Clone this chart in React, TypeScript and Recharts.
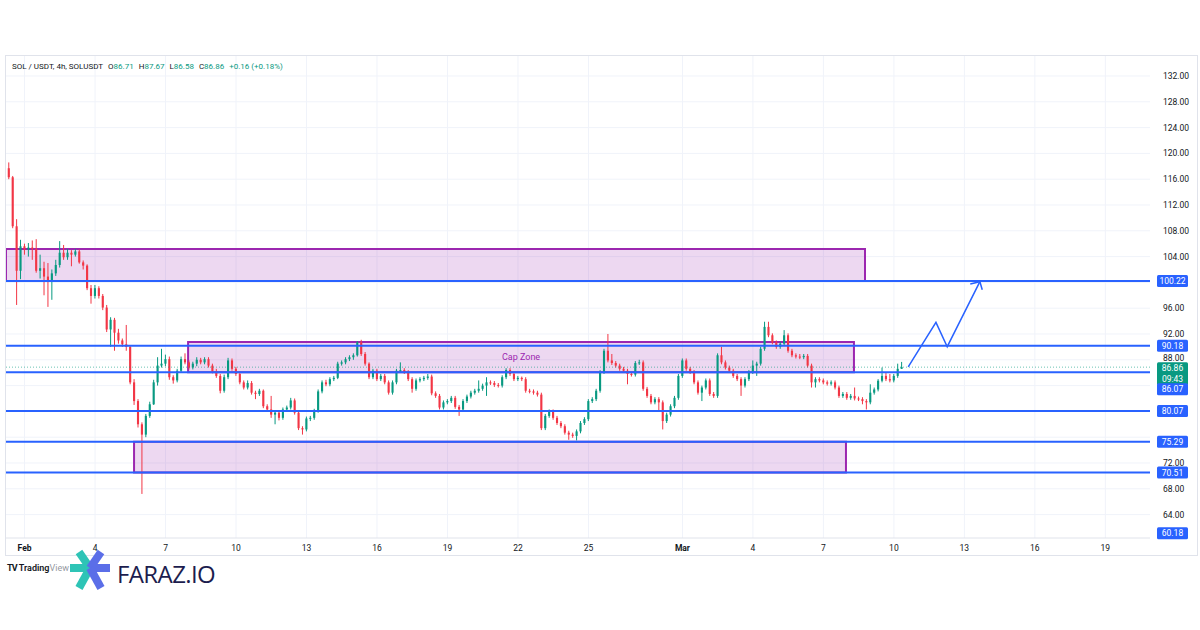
import React from 'react';
import { ComposedChart, Bar, Line, XAxis, YAxis, CartesianGrid, ReferenceLine, ReferenceArea } from 'recharts';

const GREEN = '#089981';
const RED = '#f23645';
const BLUE = '#2962ff';
const PURPLE = '#9c27b0';
const INK = '#131722';
const FONT = 'Roboto, "Liberation Sans", sans-serif';

// 4h candles; day 0 = Feb 1 00:00, first candle opens Jan 31 08:00
const START_DAY = -4 / 6;
const STEP_DAYS = 4 / 24;
const FIRST_OPEN = 117.7;

const closes = [
  116.3, 108.7, 101.8, 105.6, 105.1, 105.4, 105.2, 101.8, 102.2, 100.9,
  100.1, 101.4, 102.7, 104.6, 103.9, 104.6, 104.3, 104.8, 103.1, 102.6,
  99.1, 97.9, 99.1, 97.9, 96.1, 92.7, 94.2, 92.2, 91.0, 90.4,
  90.0, 84.5, 81.6, 78.0, 76.4, 79.3, 81.1, 84.5, 87.1, 87.4,
  88.1, 85.3, 84.8, 86.3, 88.1, 87.6, 86.8, 87.4, 88.0, 87.6,
  88.1, 87.1, 86.2, 85.5, 83.2, 85.3, 87.9, 86.6, 85.8, 84.5,
  83.7, 84.4, 82.9, 82.7, 83.2, 80.8, 80.3, 79.5, 79.8, 79.0,
  80.3, 80.6, 81.7, 79.8, 77.4, 77.2, 78.9, 79.0, 80.1, 83.1,
  84.5, 84.2, 85.0, 85.2, 87.4, 87.6, 88.1, 88.4, 88.7, 90.7,
  88.9, 87.4, 85.3, 86.3, 85.0, 85.5, 84.5, 82.9, 84.5, 86.3,
  86.4, 86.1, 85.0, 83.5, 84.8, 85.0, 85.2, 85.4, 82.8, 82.4,
  80.6, 81.4, 81.6, 82.1, 80.7, 80.3, 81.6, 82.3, 82.9, 83.2,
  83.5, 84.0, 84.5, 84.4, 84.1, 84.0, 85.3, 86.4, 85.8, 85.0,
  85.2, 85.0, 83.2, 83.1, 82.9, 82.6, 77.4, 79.3, 80.0, 79.0,
  78.2, 77.7, 76.7, 76.4, 76.2, 76.9, 78.2, 78.8, 81.6, 81.9,
  83.2, 86.1, 89.4, 87.9, 87.5, 87.1, 86.6, 86.3, 85.8, 85.7,
  87.5, 87.6, 83.5, 82.4, 81.4, 81.9, 81.4, 78.5, 79.5, 80.8,
  82.1, 85.5, 87.9, 86.6, 86.1, 84.5, 82.9, 83.7, 84.8, 82.7,
  82.4, 88.7, 87.6, 86.8, 86.3, 85.5, 85.0, 84.0, 85.0, 86.1,
  87.1, 87.4, 89.7, 93.1, 91.8, 90.7, 90.0, 90.5, 91.8, 89.4,
  88.7, 88.5, 88.4, 88.6, 87.1, 84.5, 85.0, 84.8, 84.5, 84.3,
  84.5, 83.7, 82.4, 82.7, 82.1, 82.4, 82.0, 81.9, 81.6, 81.4,
  82.9, 83.4, 84.75, 85.5, 85.0, 84.8, 85.5, 86.6, 86.86,
];

const highs = [
  118.6, 116.5, 109.8, 106.6, 106.0, 106.1, 106.5, 106.7, 104.3, 103.2,
  103.0, 102.0, 103.5, 106.4, 105.8, 105.2, 105.0, 105.2, 105.1, 103.4,
  102.8, 99.6, 99.6, 99.4, 98.2, 96.5, 94.6, 94.5, 92.8, 91.3,
  93.4, 90.2, 85.0, 81.9, 78.3, 79.6, 81.5, 84.9, 88.4, 89.7,
  88.8, 88.5, 85.6, 86.6, 88.5, 89.0, 87.9, 87.7, 88.4, 88.3,
  88.4, 88.4, 87.4, 86.6, 85.8, 85.7, 88.3, 88.2, 86.9, 86.1,
  84.8, 84.8, 84.7, 83.2, 83.5, 83.4, 81.1, 82.4, 80.2, 80.1,
  80.6, 80.9, 82.1, 82.0, 80.1, 77.7, 79.2, 79.3, 80.4, 83.4,
  84.8, 84.9, 85.3, 85.5, 87.7, 87.9, 88.4, 88.7, 89.0, 90.9,
  91.1, 89.2, 87.6, 86.6, 86.6, 85.8, 85.8, 84.8, 84.8, 86.6,
  87.6, 86.7, 86.4, 85.3, 85.1, 85.3, 85.5, 85.8, 85.7, 83.1,
  82.7, 81.7, 81.9, 82.4, 82.4, 81.0, 81.9, 82.6, 83.2, 83.5,
  84.8, 84.3, 85.3, 84.8, 84.7, 84.4, 85.6, 86.7, 86.7, 86.1,
  85.5, 85.4, 85.3, 83.5, 83.4, 83.2, 82.9, 79.6, 80.3, 80.3,
  79.3, 78.5, 78.0, 77.0, 76.7, 77.2, 78.5, 79.1, 81.9, 82.2,
  83.5, 86.4, 89.7, 92.0, 88.9, 87.8, 87.4, 86.9, 86.6, 86.1,
  87.8, 88.0, 87.9, 83.8, 82.7, 82.2, 82.2, 81.7, 79.8, 81.1,
  82.4, 85.8, 88.2, 88.2, 86.9, 86.4, 84.8, 84.0, 85.1, 85.1,
  83.0, 89.0, 90.0, 87.9, 87.1, 86.6, 85.8, 85.3, 85.3, 86.4,
  87.9, 87.7, 90.0, 93.9, 93.9, 92.1, 91.0, 90.8, 92.6, 92.1,
  89.7, 89.0, 88.9, 88.9, 88.9, 87.4, 85.3, 85.3, 85.1, 84.8,
  84.8, 84.8, 84.0, 83.0, 83.0, 82.7, 83.7, 82.3, 82.2, 81.9,
  84.2, 83.7, 85.0, 86.8, 86.0, 85.8, 85.8, 87.4, 87.67,
];

const lows = [
  116.0, 108.4, 96.5, 100.5, 104.3, 104.0, 103.5, 101.5, 100.6, 98.0,
  96.2, 97.3, 101.0, 102.3, 103.5, 103.5, 102.5, 104.0, 102.9, 102.0,
  98.8, 96.7, 97.5, 97.5, 95.7, 92.3, 90.0, 89.4, 90.5, 90.0,
  89.4, 84.2, 81.0, 77.5, 67.2, 76.0, 79.0, 81.0, 84.0, 86.8,
  87.0, 84.9, 84.3, 84.5, 86.0, 87.3, 86.5, 86.5, 87.0, 87.3,
  87.3, 86.8, 85.9, 85.2, 82.8, 82.9, 85.0, 86.3, 85.5, 84.2,
  83.4, 83.4, 82.6, 81.9, 82.4, 80.5, 80.0, 79.0, 78.0, 78.6,
  78.7, 80.0, 80.3, 79.5, 77.1, 76.4, 76.9, 78.5, 78.7, 79.8,
  82.8, 83.9, 83.9, 84.7, 85.0, 87.1, 87.3, 87.8, 88.0, 88.5,
  88.6, 87.1, 85.0, 85.0, 84.7, 84.7, 84.2, 82.6, 82.6, 84.2,
  86.0, 85.8, 84.7, 82.9, 83.2, 84.5, 84.7, 84.9, 82.5, 82.1,
  80.3, 80.3, 81.1, 81.3, 80.4, 79.3, 80.0, 81.3, 82.0, 82.6,
  82.9, 83.2, 82.4, 84.1, 83.8, 83.7, 83.7, 85.0, 85.5, 84.7,
  84.7, 84.7, 82.9, 82.8, 82.6, 82.3, 77.1, 77.1, 79.0, 78.7,
  77.9, 77.4, 76.4, 75.6, 75.9, 75.5, 76.6, 77.9, 78.5, 81.3,
  81.6, 82.9, 85.8, 87.6, 87.2, 86.8, 86.3, 86.0, 84.2, 85.4,
  85.4, 87.2, 83.2, 82.1, 81.1, 81.1, 80.1, 77.2, 78.2, 79.2,
  80.5, 81.8, 85.2, 86.3, 85.8, 84.2, 82.6, 81.6, 83.4, 82.4,
  82.1, 82.1, 87.3, 86.5, 86.0, 85.2, 84.7, 82.4, 83.7, 84.7,
  85.8, 85.5, 87.1, 89.4, 91.5, 90.4, 89.7, 89.7, 90.2, 89.1,
  88.4, 88.2, 88.1, 88.1, 86.8, 83.7, 83.7, 84.5, 84.2, 84.0,
  84.0, 83.4, 82.1, 82.1, 81.8, 81.8, 81.7, 81.6, 81.1, 80.3,
  81.1, 82.6, 83.1, 84.5, 84.7, 84.5, 84.5, 85.2, 86.58,
];

const TIME_TICKS = [0, 3, 6, 9, 12, 15, 18, 21, 24, 28, 31, 34, 37, 40, 43, 46];
const TIME_LABELS = ['Feb', '4', '7', '10', '13', '16', '19', '22', '25', 'Mar', '4', '7', '10', '13', '16', '19'];
const PRICE_TICKS = [64, 68, 72, 88, 92, 96, 104, 108, 112, 116, 120, 124, 128, 132];
const GRID_PRICES = [64, 68, 72, 76, 80, 84, 88, 92, 96, 100, 104, 108, 112, 116, 120, 124, 128, 132];

// horizontal levels drawn in blue, with their axis tags (shift = tag offset in px)
const LEVELS = [
  { price: 100.22, shift: 0 },
  { price: 90.18, shift: 0 },
  { price: 86.07, shift: 17 },
  { price: 80.07, shift: 0 },
  { price: 75.29, shift: 0 },
  { price: 70.51, shift: 0 },
];

const ZONES = [
  { x1: -0.79, x2: 35.77, y1: 100.22, y2: 105.18, label: '' },
  { x1: 6.96, x2: 35.3, y1: 86.07, y2: 90.76, label: 'Cap Zone' },
  { x1: 4.66, x2: 34.96, y1: 70.51, y2: 75.29, label: '' },
];

const arrowPath = [
  { t: 37.61, p: 86.9 },
  { t: 38.79, p: 93.8 },
  { t: 39.27, p: 90.03 },
  { t: 40.66, p: 100.11 },
];
const arrowHead = [
  { t: 40.25, p: 99.75 },
  { t: 40.66, p: 100.11 },
  { t: 40.76, p: 98.85 },
];

const candles = closes.map((close, i) => {
  const open = i === 0 ? FIRST_OPEN : closes[i - 1];
  const high = Math.max(highs[i], open, close);
  const low = Math.min(lows[i], open, close);
  return { t: START_DAY + i * STEP_DAYS, open, high, low, close, range: [low, high] };
});

const Candle = (props: any) => {
  const { x, y, width, height, payload } = props;
  if (!payload || height == null) return null;
  const top = Math.min(y, y + height);
  const h = Math.abs(height);
  const { open, close, high, low } = payload;
  const color = close >= open ? GREEN : RED;
  const k = high > low ? h / (high - low) : 0;
  const cx = x + width / 2;
  const bodyTop = top + (high - Math.max(open, close)) * k;
  const bodyH = Math.max(1, Math.abs(open - close) * k);
  return (
    <g>
      <line x1={cx} x2={cx} y1={top} y2={top + h} stroke={color} strokeWidth={1} />
      <rect x={x} y={bodyTop} width={width} height={bodyH} fill={color} />
    </g>
  );
};

const priceTag = (text: string, color: string, shift: number, sub?: string) => (props: any) => {
  const vb = props.viewBox || {};
  const x = (vb.x || 0) + (vb.width || 0) + 7;
  const y = (vb.y || 0) + shift;
  return (
    <g>
      <rect x={x} y={y - 6} width={31} height={sub ? 23 : 12} rx={1.5} fill={color} />
      <text x={x + 15.5} y={y + 3} textAnchor="middle" fontSize={8.5} fontFamily={FONT} fill="#fff">{text}</text>
      {sub && (
        <text x={x + 15.5} y={y + 14} textAnchor="middle" fontSize={8.5} fontFamily={FONT} fill="#fff">{sub}</text>
      )}
    </g>
  );
};

const TimeTick = (props: any) => {
  const { x, y, payload } = props;
  const label = TIME_LABELS[TIME_TICKS.indexOf(payload.value)];
  const month = label === 'Feb' || label === 'Mar';
  return (
    <text x={x} y={y + 5} textAnchor="middle" fontSize={8.5} fontFamily={FONT} fontWeight={month ? 700 : 400} fill={INK}>
      {label}
    </text>
  );
};

const PriceTick = (props: any) => {
  const { x, y, payload } = props;
  // the 88 label sits just above the live price tag, as in TradingView
  const lift = payload.value === 88 ? -2 : 0;
  return (
    <text x={x + 5} y={y + 3 + lift} textAnchor="start" fontSize={8.5} fontFamily={FONT} fill={INK}>
      {Number(payload.value).toFixed(2)}
    </text>
  );
};

const gap = { marginLeft: 5 };
const Legend = () => (
  <div style={{ position: 'absolute', left: 12, top: 62, fontFamily: FONT, fontSize: 8, color: INK, whiteSpace: 'nowrap' }}>
    <span>SOL / USDT, 4h, SOLUSDT</span>
    <span style={gap}>O<span style={{ color: GREEN }}>86.71</span></span>
    <span style={gap}>H<span style={{ color: GREEN }}>87.67</span></span>
    <span style={gap}>L<span style={{ color: GREEN }}>86.58</span></span>
    <span style={gap}>C<span style={{ color: GREEN }}>86.86</span></span>
    <span style={{ ...gap, color: GREEN }}>+0.16 (+0.18%)</span>
  </div>
);

const Branding = () => (
  <>
    <div style={{ position: 'absolute', left: 7, top: 563, fontFamily: FONT, fontSize: 9, color: INK }}>
      <b style={{ letterSpacing: -1 }}>TV</b> <span style={{ fontWeight: 600 }}>Trading</span>
      <span style={{ color: '#9598a1' }}>View</span>
    </div>
    <svg style={{ position: 'absolute', left: 66, top: 548 }} width={50} height={46}>
      <g strokeWidth={8} strokeLinecap="butt">
        <line x1={24} x2={4} y1={20} y2={20} stroke="#2ec4b6" />
        <line x1={24} x2={13} y1={20} y2={4} stroke="#2ec4b6" />
        <line x1={24} x2={13} y1={20} y2={40} stroke="#2ec4b6" />
        <line x1={24} x2={44} y1={20} y2={20} stroke="#5b6ee8" />
        <line x1={24} x2={35} y1={20} y2={4} stroke="#5b6ee8" />
        <line x1={24} x2={35} y1={20} y2={40} stroke="#5b6ee8" />
      </g>
    </svg>
    <div style={{ position: 'absolute', left: 117, top: 557, fontFamily: '"Open Sans", sans-serif', fontSize: 24, color: '#1c1d4e', letterSpacing: -0.6 }}>
      FARAZ.IO
    </div>
  </>
);

export default function App() {
  return (
    <div style={{ position: 'relative', width: 1200, height: 630, background: '#fff', overflow: 'hidden' }}>
      <style>{'body{margin:0}'}</style>
      <div style={{ position: 'absolute', left: 5, top: 55, width: 1191, height: 499, border: '1px solid #e0e3eb' }} />
      <ComposedChart
        width={1200}
        height={630}
        data={candles}
        margin={{ top: 56, left: 6, right: 3, bottom: 75 }}
        style={{ position: 'absolute', left: 0, top: 0 }}
      >
        <CartesianGrid stroke="#f0f3fa" horizontalValues={GRID_PRICES} verticalValues={TIME_TICKS} />
        <XAxis
          dataKey="t"
          type="number"
          domain={[-0.79, 47.9]}
          allowDataOverflow
          ticks={TIME_TICKS}
          tick={<TimeTick />}
          tickLine={false}
          axisLine={{ stroke: '#e0e3eb' }}
          height={17}
        />
        <YAxis
          orientation="right"
          domain={[60.37, 135.1]}
          allowDataOverflow
          ticks={PRICE_TICKS}
          tick={<PriceTick />}
          tickLine={false}
          axisLine={false}
          width={47}
        />
        {ZONES.map((z, i) => (
          <ReferenceArea
            key={i}
            x1={z.x1}
            x2={z.x2}
            y1={z.y1}
            y2={z.y2}
            fill={PURPLE}
            fillOpacity={0.18}
            stroke={PURPLE}
            strokeWidth={2}
            ifOverflow="hidden"
            label={z.label ? { value: z.label, position: 'center', fill: PURPLE, fontSize: 9, fontFamily: FONT } : undefined}
          />
        ))}
        <Bar dataKey="range" barSize={3} shape={<Candle />} isAnimationActive={false} />
        <ReferenceLine
          y={86.86}
          stroke={GREEN}
          strokeOpacity={0.6}
          strokeDasharray="1 2"
          label={priceTag('86.86', GREEN, 1, '09:43')}
        />
        {LEVELS.map((l) => (
          <ReferenceLine
            key={l.price}
            y={l.price}
            stroke={BLUE}
            strokeWidth={2}
            label={priceTag(l.price.toFixed(2), BLUE, l.shift)}
          />
        ))}
        <ReferenceLine y={60.18} stroke="transparent" ifOverflow="visible" label={priceTag('60.18', BLUE, -6)} />
        <Line data={arrowPath} dataKey="p" type="linear" stroke={BLUE} strokeWidth={1.5} dot={false} isAnimationActive={false} />
        <Line data={arrowHead} dataKey="p" type="linear" stroke={BLUE} strokeWidth={1.5} dot={false} isAnimationActive={false} />
      </ComposedChart>
      <Legend />
      <Branding />
    </div>
  );
}
